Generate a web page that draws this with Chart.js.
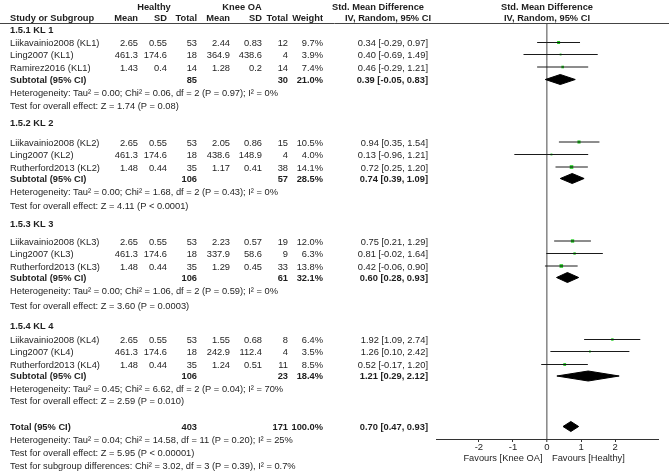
<!DOCTYPE html>
<html><head><meta charset="utf-8">
<script src="https://cdn.jsdelivr.net/npm/chart.js@4/dist/chart.umd.min.js"></script>
<style>html,body{margin:0;padding:0;background:#fff;overflow:hidden}#wrap{position:relative;width:669px;height:472px}canvas{display:block}</style>
</head><body><div id="wrap"><canvas id="c" width="669" height="472" style="width:669px;height:472px"></canvas></div>
<script>
// ---------- DATA ----------
const studyNames = ['Liikavainio2008 (KL1)','Ling2007 (KL1)','Ramirez2016 (KL1)',
  'Liikavainio2008 (KL2)','Ling2007 (KL2)','Rutherford2013 (KL2)',
  'Liikavainio2008 (KL3)','Ling2007 (KL3)','Rutherford2013 (KL3)',
  'Liikavainio2008 (KL4)','Ling2007 (KL4)','Rutherford2013 (KL4)'];
const healthyMean = [2.65,461.3,1.43, 2.65,461.3,1.48, 2.65,461.3,1.48, 2.65,461.3,1.48];
const healthySD   = [0.55,174.6,0.4, 0.55,174.6,0.44, 0.55,174.6,0.44, 0.55,174.6,0.44];
const healthyN    = [53,18,14, 53,18,35, 53,18,35, 53,18,35];
const oaMean      = [2.44,364.9,1.28, 2.05,438.6,1.17, 2.23,337.9,1.29, 1.55,242.9,1.24];
const oaSD        = [0.83,438.6,0.2, 0.86,148.9,0.41, 0.57,58.6,0.45, 0.68,112.4,0.51];
const oaN         = [12,4,14, 15,4,38, 19,9,33, 8,4,11];
const studyWeight = [9.7,3.9,7.4, 10.5,4.0,14.1, 12.0,6.3,13.8, 6.4,3.5,8.5];
const studySMD    = [0.34,0.40,0.46, 0.94,0.13,0.72, 0.75,0.81,0.42, 1.92,1.26,0.52];
const studyLo     = [-0.29,-0.69,-0.29, 0.35,-0.96,0.25, 0.21,-0.02,-0.06, 1.09,0.10,-0.17];
const studyHi     = [0.97,1.49,1.21, 1.54,1.21,1.20, 1.29,1.64,0.90, 2.74,2.42,1.20];

const groupTitles = ['1.5.1 KL 1','1.5.2 KL 2','1.5.3 KL 3','1.5.4 KL 4'];
const subHealthyN = [85,106,106,106];
const subOaN      = [30,57,61,23];
const subWeight   = [21.0,28.5,32.1,18.4];
const subSMD      = [0.39,0.74,0.60,1.21];
const subLo       = [-0.05,0.39,0.28,0.29];
const subHi       = [0.83,1.09,0.93,2.12];
const subTau2     = ['0.00','0.00','0.00','0.45'];
const subChi2     = ['0.06','1.68','1.06','6.62'];
const subDf       = [2,2,2,2];
const subHetP     = ['= 0.97','= 0.43','= 0.59','= 0.04'];
const subI2       = ['0','0','0','70'];
const subZ        = ['1.74','4.11','3.60','2.59'];
const subZP       = ['= 0.08','< 0.0001','= 0.0003','= 0.010'];

const totalHealthyN = 403, totalOaN = 171, totalWeight = 100.0;
const totalSMD = 0.70, totalLo = 0.47, totalHi = 0.93;
const totalTau2 = '0.04', totalChi2 = '14.58', totalDf = 11, totalHetP = '= 0.20', totalI2 = '25';
const totalZ = '5.95', totalZP = '< 0.00001';
const sgChi2 = '3.02', sgDf = 3, sgP = '= 0.39', sgI2 = '0.7';

const xTicks = [-2,-1,0,1,2];
const favoursLeft = 'Favours [Knee OA]';
const favoursRight = 'Favours [Healthy]';

// ---------- LAYOUT (row slots, in page pixel units) ----------
const groupHeaderY = [30, 123.3, 224, 326.7];
const studyRowY = [42.5,54.5,67, 142,154.5,167, 241,253.5,266, 339.5,351.5,364.5];
const subtotalY = [79.5,178.5,277.5,376];
const hetY  = [93.3,192.7,291.7,389];
const testY = [106.7,206.7,306.7,401.7];
const totalY = 426.5, totalHetY = 440.3, totalTestY = 453.3, sgTestY = 466.7;
const COL = {name:10, hMean:138, hSD:167, hN:197, kMean:230, kSD:262, kN:288, w:323, ci:428};
const DIAMOND_HALF = 5;

const FONT = '"Liberation Sans", Arial, sans-serif';
const FS = 9.3;
const TXT = '#1e1e1e';

function ciText(e,l,h){ return e.toFixed(2)+' ['+l.toFixed(2)+', '+h.toFixed(2)+']'; }

// ---------- DATASETS ----------
const ciData = [];
studySMD.forEach((_,i)=>{
  ciData.push({x:studyLo[i], y:studyRowY[i]});
  ciData.push({x:studyHi[i], y:studyRowY[i]});
  ciData.push({x:null, y:null});
});
const pointData = studySMD.map((v,i)=>({x:v, y:studyRowY[i]}));

function diamond(e,l,h,yy){
  return [{x:l,y:yy},{x:e,y:yy-DIAMOND_HALF},{x:h,y:yy},{x:e,y:yy+DIAMOND_HALF},{x:l,y:yy}];
}
const diamondSets = subSMD.map((e,i)=>diamond(e,subLo[i],subHi[i],subtotalY[i]));
diamondSets.push(diamond(totalSMD,totalLo,totalHi,totalY));

const datasets = [
  {data:ciData, showLine:true, spanGaps:false, borderColor:'#1a1a1a', borderWidth:1, pointRadius:0, fill:false},
  {data:pointData, showLine:false, pointStyle:'rect', backgroundColor:'#19cc19', borderWidth:0,
   pointRadius:(ctx)=>{ const w = studyWeight[ctx.dataIndex]||0; return 0.95*Math.sqrt(w)/1.414; }}
].concat(diamondSets.map(d=>({data:d, showLine:true, fill:'shape', backgroundColor:'#000', borderColor:'#000', borderWidth:1, pointRadius:0, tension:0})));

// ---------- TEXT PLUGIN ----------
const tablePlugin = {
  id:'table',
  afterDraw(chart){
    const ctx = chart.ctx, ys = chart.scales.y, xs = chart.scales.x;
    const Y = v => ys.getPixelForValue(v);
    ctx.save();
    ctx.fillStyle = TXT;
    ctx.textBaseline = 'middle';
    function t(s,x,y,align,bold){
      ctx.font = (bold?'bold ':'')+FS+'px '+FONT;
      ctx.textAlign = align||'left';
      ctx.fillText(s,x,y);
    }
    // headers
    t('Healthy',154,7,'center',true);
    t('Knee OA',242,7,'center',true);
    t('Std. Mean Difference',378,7,'center',true);
    t('Std. Mean Difference',xs.getPixelForValue(0),7,'center',true);
    t('Study or Subgroup',COL.name,18.5,'left',true);
    t('Mean',COL.hMean,18.5,'right',true);
    t('SD',COL.hSD,18.5,'right',true);
    t('Total',COL.hN,18.5,'right',true);
    t('Mean',COL.kMean,18.5,'right',true);
    t('SD',COL.kSD,18.5,'right',true);
    t('Total',COL.kN,18.5,'right',true);
    t('Weight',COL.w,18.5,'right',true);
    t('IV, Random, 95% CI',388,18.5,'center',true);
    t('IV, Random, 95% CI',xs.getPixelForValue(0),18.5,'center',true);
    ctx.strokeStyle = '#444'; ctx.lineWidth = 1;
    ctx.beginPath(); ctx.moveTo(0,23.5); ctx.lineTo(669,23.5); ctx.stroke();

    groupTitles.forEach((g,gi)=>{
      t(g,COL.name,Y(groupHeaderY[gi]),'left',true);
      for(let i=0;i<studyNames.length;i++){
        if(Math.floor(i/3)!==gi) continue;
        const y = Y(studyRowY[i])+1;
        t(studyNames[i],COL.name,y);
        t(String(healthyMean[i]),COL.hMean,y,'right');
        t(String(healthySD[i]),COL.hSD,y,'right');
        t(String(healthyN[i]),COL.hN,y,'right');
        t(String(oaMean[i]),COL.kMean,y,'right');
        t(String(oaSD[i]),COL.kSD,y,'right');
        t(String(oaN[i]),COL.kN,y,'right');
        t(studyWeight[i].toFixed(1)+'%',COL.w,y,'right');
        t(ciText(studySMD[i],studyLo[i],studyHi[i]),COL.ci,y,'right');
      }
      const sy = Y(subtotalY[gi])+0.5;
      t('Subtotal (95% CI)',COL.name,sy,'left',true);
      t(String(subHealthyN[gi]),COL.hN,sy,'right',true);
      t(String(subOaN[gi]),COL.kN,sy,'right',true);
      t(subWeight[gi].toFixed(1)+'%',COL.w,sy,'right',true);
      t(ciText(subSMD[gi],subLo[gi],subHi[gi]),COL.ci,sy,'right',true);
      t('Heterogeneity: Tau\u00b2 = '+subTau2[gi]+'; Chi\u00b2 = '+subChi2[gi]+', df = '+subDf[gi]+' (P '+subHetP[gi]+'); I\u00b2 = '+subI2[gi]+'%',COL.name,Y(hetY[gi]));
      t('Test for overall effect: Z = '+subZ[gi]+' (P '+subZP[gi]+')',COL.name,Y(testY[gi]));
    });
    const ty = Y(totalY)+0.5;
    t('Total (95% CI)',COL.name,ty,'left',true);
    t(String(totalHealthyN),COL.hN,ty,'right',true);
    t(String(totalOaN),COL.kN,ty,'right',true);
    t(totalWeight.toFixed(1)+'%',COL.w,ty,'right',true);
    t(ciText(totalSMD,totalLo,totalHi),COL.ci,ty,'right',true);
    t('Heterogeneity: Tau\u00b2 = '+totalTau2+'; Chi\u00b2 = '+totalChi2+', df = '+totalDf+' (P '+totalHetP+'); I\u00b2 = '+totalI2+'%',COL.name,totalHetY);
    t('Test for overall effect: Z = '+totalZ+' (P '+totalZP+')',COL.name,totalTestY);
    t('Test for subgroup differences: Chi\u00b2 = '+sgChi2+', df = '+sgDf+' (P '+sgP+'), I\u00b2 = '+sgI2+'%',COL.name,sgTestY);
    // favours labels
    const x0 = xs.getPixelForValue(0);
    t(favoursLeft,x0-4.5,458.3,'right');
    t(favoursRight,x0+5,458.3,'left');
    ctx.restore();
  }
};

new Chart(document.getElementById('c'),{
  type:'scatter',
  data:{datasets},
  options:{
    responsive:false, animation:false, events:[],
    devicePixelRatio:1,
    layout:{padding:{left:436,right:11,top:24,bottom:0}},
    plugins:{legend:{display:false},tooltip:{enabled:false}},
    scales:{
      x:{type:'linear', min:-3.26, max:3.26, position:'bottom',
        afterBuildTicks:(s)=>{ s.ticks = xTicks.map(v=>({value:v})); },
        afterFit:(s)=>{ s.height = 33; },
        grid:{drawOnChartArea:true, tickLength:3, tickWidth:1, tickColor:'#333',
          color:(c)=> (c.tick && c.tick.value===0) ? '#8c8c8c' : 'rgba(0,0,0,0)',
          lineWidth:(c)=> (c.tick && c.tick.value===0) ? 1.6 : 1},
        border:{display:true, color:'#333', width:1},
        ticks:{padding:0, color:TXT, font:{family:FONT, size:9.5}, maxRotation:0, autoSkip:false,
          callback:(v)=>String(v)}
      },
      y:{type:'linear', display:false, reverse:true, min:24, max:439}
    }
  },
  plugins:[tablePlugin]
});
</script>
</body></html>
